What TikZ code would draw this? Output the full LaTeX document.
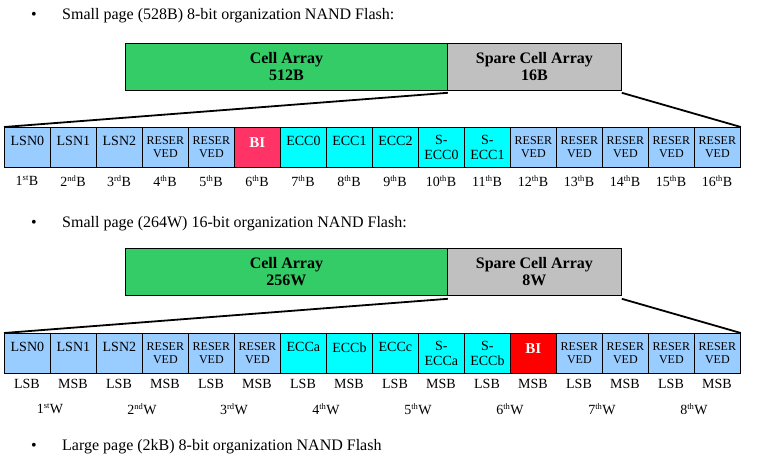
\documentclass[tikz,border=0pt]{standalone}
\usepackage{fontspec}
\setmainfont{Liberation Serif}
\definecolor{lb}{RGB}{153,204,255}
\definecolor{cy}{RGB}{0,255,255}
\definecolor{pk}{RGB}{255,51,102}
\definecolor{rd}{RGB}{255,0,0}
\definecolor{gr}{RGB}{51,204,102}
\definecolor{gy}{RGB}{192,192,192}
\tikzset{
  cellbox/.style={draw=black, line width=0.8pt, minimum width=46pt, minimum height=40pt, inner sep=0pt, anchor=north west},
  ctext/.style={inner sep=0pt, align=center, font=\fontsize{14}{14.5}\selectfont},
  rtext/.style={inner sep=0pt, align=center, font=\fontsize{12}{13}\selectfont},
  bitext/.style={inner sep=0pt, font=\fontsize{15}{15}\selectfont\bfseries, text=white},
  bigbox/.style={draw=black, line width=0.8pt, minimum height=47pt, inner sep=0pt, anchor=north west, align=center, font=\fontsize{16}{17}\selectfont\bfseries},
  head/.style={inner sep=0pt, anchor=west, font=\fontsize{16}{16}\selectfont},
  lab/.style={inner sep=0pt, font=\fontsize{14}{14}\selectfont},
  zoomline/.style={line width=1.8pt},
}
\newcommand{\sps}[1]{\textsuperscript{\fontsize{8.5}{8.5}\selectfont #1}}
\begin{document}
\begin{tikzpicture}[x=1pt,y=-1pt]
\useasboundingbox (0,0) rectangle (768,460);
% headers
\node[head] (b1) at (31,16) {•};
\node[head] (h1) at (62,16) {Small page (528B) 8-bit organization NAND Flash:};
\node[head] (b2) at (31,224) {•};
\node[head] (h2) at (62,224) {Small page (264W) 16-bit organization NAND Flash:};
\node[head] (b3) at (31,447) {•};
\node[head] (h3) at (62,447) {Large page (2kB) 8-bit organization NAND Flash};
% top boxes section 1
\node[bigbox, fill=gr, minimum width=322pt] (ca1) at (125,43) {Cell Array\\512B};
\node[bigbox, fill=gy, minimum width=174pt] (sa1) at (447,43) {Spare Cell Array\\16B};
% row 1 cells
\foreach \i/\t/\c/\s/\dy in {
  1/LSN0/lb/ctext/6, 2/LSN1/lb/ctext/6, 3/LSN2/lb/ctext/6,
  4/RESER\\VED/lb/rtext/0, 5/RESER\\VED/lb/rtext/0,
  6/BI/pk/bitext/5,
  7/ECC0/cy/ctext/6, 8/ECC1/cy/ctext/6, 9/ECC2/cy/ctext/6,
  10/S-\\ECC0/cy/ctext/0, 11/S-\\ECC1/cy/ctext/0,
  12/RESER\\VED/lb/rtext/0, 13/RESER\\VED/lb/rtext/0, 14/RESER\\VED/lb/rtext/0,
  15/RESER\\VED/lb/rtext/0, 16/RESER\\VED/lb/rtext/0}{
  \node[cellbox, fill=\c] (r1c\i) at ({4+46*(\i-1)},127) {};
  \node[\s, yshift=\dy pt] (r1t\i) at (r1c\i.center) {\t};
}
\foreach \i/\o in {1/st,2/nd,3/rd,4/th,5/th,6/th,7/th,8/th,9/th,10/th,11/th,12/th,13/th,14/th,15/th,16/th}{
  \node[lab] (r1l\i) at ({27+46*(\i-1)},181) {\i\sps{\o}B};
}
\draw[zoomline] ([yshift=-2pt]ca1.south east) -- (r1c1.north west);
\draw[zoomline] ([yshift=-2pt]sa1.south east) -- (r1c16.north east);
% section 2
\node[bigbox, fill=gr, minimum width=322pt] (ca2) at (125,248) {Cell Array\\256W};
\node[bigbox, fill=gy, minimum width=174pt] (sa2) at (447,248) {Spare Cell Array\\8W};
\foreach \i/\t/\c/\s/\dy in {
  1/LSN0/lb/ctext/6, 2/LSN1/lb/ctext/6, 3/LSN2/lb/ctext/6,
  4/RESER\\VED/lb/rtext/0, 5/RESER\\VED/lb/rtext/0, 6/RESER\\VED/lb/rtext/0,
  7/ECCa/cy/ctext/6, 8/ECCb/cy/ctext/6, 9/ECCc/cy/ctext/6,
  10/S-\\ECCa/cy/ctext/0, 11/S-\\ECCb/cy/ctext/0,
  12/BI/rd/bitext/5,
  13/RESER\\VED/lb/rtext/0, 14/RESER\\VED/lb/rtext/0,
  15/RESER\\VED/lb/rtext/0, 16/RESER\\VED/lb/rtext/0}{
  \node[cellbox, fill=\c] (r2c\i) at ({4+46*(\i-1)},333) {};
  \node[\s, yshift=\dy pt] (r2t\i) at (r2c\i.center) {\t};
}
\foreach \i in {1,3,5,7,9,11,13,15}{
  \node[lab] (r2l\i) at ({27+46*(\i-1)},384) {LSB};
}
\foreach \i in {2,4,6,8,10,12,14,16}{
  \node[lab] (r2l\i) at ({27+46*(\i-1)},384) {MSB};
}
\foreach \i/\o in {1/st,2/nd,3/rd,4/th,5/th,6/th,7/th,8/th}{
  \node[lab] (r2w\i) at ({50+92*(\i-1)},409) {\i\sps{\o}W};
}
\draw[zoomline] ([yshift=-3pt]ca2.south east) -- (r2c1.north west);
\draw[zoomline] ([yshift=-3pt]sa2.south east) -- (r2c16.north east);
\end{tikzpicture}
\end{document}
